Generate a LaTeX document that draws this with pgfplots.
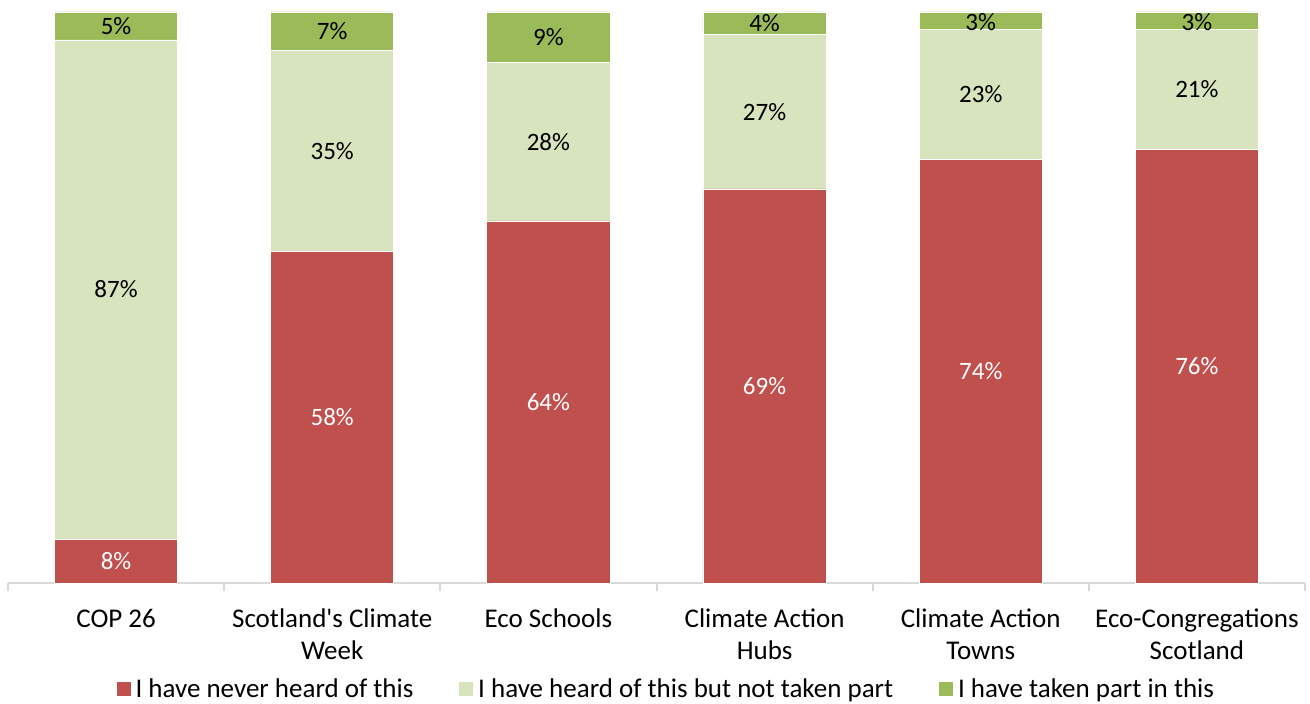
\documentclass[border=0pt]{standalone}
\usepackage{fontspec}
\setmainfont{Carlito}
\usepackage{pgfplots}
\pgfplotsset{compat=1.18}
\definecolor{never}{HTML}{C0504D}
\definecolor{heard}{HTML}{D7E4BD}
\definecolor{took}{HTML}{9BBB59}
\definecolor{axisgray}{HTML}{D9D9D9}

\pgfplotsset{
  frame/.style={scale only axis, width=648.5pt, height=285.5pt,
    xmin=-0.5, xmax=5.5, ymin=0, ymax=100, clip=false},
  lbl/.style={draw=none, mark=none, nodes near coords, point meta=explicit symbolic,
    every node near coord/.append style={anchor=center, text=#1,
      font=\fontsize{12.5}{14}\selectfont}},
}

\begin{document}
\begin{tikzpicture}
\begin{axis}[
  frame,
  ybar stacked, bar width=0.57,
  axis y line=none, axis x line*=bottom,
  x axis line style={axisgray, line width=1pt, -},
  xtick={-0.5,0.5,1.5,2.5,3.5,4.5,5.5},
  xticklabels={},
  tick align=outside,
  major tick length=4pt,
  x tick style={axisgray, line width=1pt},
  extra x ticks={0,1,2,3,4,5},
  extra x tick labels={COP 26, {Scotland\textquotesingle s Climate\\Week}, Eco Schools, {Climate Action\\Hubs}, {Climate Action\\Towns}, {Eco-Congregations\\Scotland}},
  extra x tick style={major tick length=0pt,
    xticklabel style={align=center, font=\fontsize{13.5}{16}\selectfont, yshift=-9.5pt}},
  legend style={at={(0.508,-0.186)}, anchor=center, legend columns=-1, draw=none,
    font=\fontsize{13.5}{16}\selectfont, inner sep=1pt,
    /tikz/every even column/.append style={column sep=20.5pt}},
  legend image code/.code={\fill[#1] (0pt,-3.75pt) rectangle (7.5pt,3.75pt);},
]
\addplot[fill=never, draw=white, line width=0.4pt]
  coordinates {(0,7.7) (1,58.0) (2,63.4) (3,69.0) (4,74.1) (5,76.0)};
\addplot[fill=heard, draw=white, line width=0.4pt]
  coordinates {(0,87.4) (1,35.2) (2,27.8) (3,27.1) (4,22.9) (5,21.0)};
\addplot[fill=took, draw=white, line width=0.4pt]
  coordinates {(0,4.9) (1,6.8) (2,8.8) (3,3.9) (4,3.0) (5,3.0)};
\legend{I have never heard of this, I have heard of this but not taken part, I have taken part in this}
\coordinate (sw) at (rel axis cs:0,0);
\coordinate (ne) at (rel axis cs:1,1);
\end{axis}
% value labels, centred in each segment
\begin{axis}[frame, hide axis]
\addplot[lbl=white] coordinates {(0,3.85) [8\%] (1,29.0) [58\%] (2,31.7) [64\%] (3,34.5) [69\%] (4,37.05) [74\%] (5,38.0) [76\%]};
\addplot[lbl=black] coordinates {(0,51.4) [87\%] (1,75.6) [35\%] (2,77.3) [28\%] (3,82.55) [27\%] (4,85.55) [23\%] (5,86.5) [21\%]};
\addplot[lbl=black] coordinates {(0,97.55) [5\%] (1,96.6) [7\%] (2,95.6) [9\%] (3,98.05) [4\%] (4,98.2) [3\%] (5,98.2) [3\%]};
\end{axis}
\pgfresetboundingbox
\path ([shift={(-4pt,-60.5pt)}]sw) rectangle ([shift={(2.5pt,6pt)}]ne);
\end{tikzpicture}
\end{document}
